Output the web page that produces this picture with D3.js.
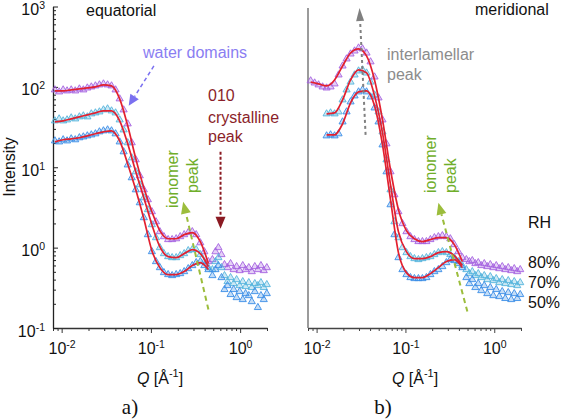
<!DOCTYPE html>
<html>
<head>
<meta charset="utf-8">
<script src="https://cdn.jsdelivr.net/npm/d3@7"></script>
<style>
  body { margin: 0; background: #fff; }
  svg { display: block; font-family: "Liberation Sans", Arial, sans-serif; }
</style>
</head>
<body>
<svg id="chart" width="563" height="420"></svg>
<script>
// ---- equatorial data (Q in 1/A, intensity) ----
const qEq = [0.0084, 0.00937, 0.0104, 0.0115, 0.0128, 0.0142, 0.0158, 0.0175, 0.0194, 0.0215,
    0.0239, 0.0265, 0.0294, 0.0327, 0.0362, 0.0402, 0.0447, 0.0495, 0.0550, 0.0610,
    0.0677, 0.0751, 0.0834, 0.0925, 0.1026, 0.114, 0.126, 0.140, 0.156, 0.173,
    0.192, 0.213, 0.236, 0.262, 0.291, 0.322, 0.358, 0.397, 0.441,
    0.489, 0.529, 0.571, 0.618, 0.668, 0.722, 0.781, 0.845, 0.913, 0.987,
    1.07, 1.15, 1.25, 1.35, 1.46, 1.58, 1.71, 1.84, 1.99];
const eq80 = [91.8, 86.7, 91.8, 89.2, 91.8, 89.2, 94.4, 91.8, 97, 100,
    103, 106, 109, 106, 103, 91.8, 71.0, 51.8, 34.7, 20.2,
    12.4, 7.84, 5.25, 3.95, 2.80, 2.10, 1.58, 1.37, 1.26, 1.26,
    1.29, 1.37, 1.45, 1.54, 1.58, 1.45, 1.15, 0.89, 0.67,
    0.71, 0.89, 1.00, 0.82, 0.615, 0.564, 0.633, 0.533, 0.581, 0.518,
    0.598, 0.533, 0.564, 0.503, 0.581, 0.533, 0.598, 0.518, 0.564];
const eq70 = [37.8, 40.0, 37.8, 38.9, 41.2, 40.0, 42.4, 43.6, 42.4, 46.2,
    47.5, 48.9, 51.8, 53.3, 50.3, 47.5, 38.9, 29.2, 20.2, 13.1,
    8.79, 6.07, 4.18, 2.97, 1.93, 1.33, 1.00, 0.842, 0.773, 0.751,
    0.751, 0.796, 0.842, 0.918, 0.944, 0.944, 0.819, 0.670, 0.564,
    0.533, 0.670, 0.751, 0.564, 0.449, 0.378, 0.424, 0.357, 0.400, 0.337,
    0.378, 0.328, 0.367, 0.319, 0.357, 0.337, 0.367, 0.319, 0.347];
const eq50 = [21.3, 20.7, 22.0, 21.3, 22.6, 22.0, 23.3, 23.9, 24.6, 25.3,
    26.1, 27.6, 28.4, 29.2, 28.4, 26.1, 20.7, 15.6, 10.7, 7.41,
    5.25, 3.62, 2.36, 1.45, 0.892, 0.670, 0.564, 0.489, 0.462, 0.449,
    0.462, 0.475, 0.503, 0.548, 0.598, 0.651, 0.670, 0.598, 0.533,
    0.449, 0.533, 0.598, 0.424, 0.301, 0.337, 0.261, 0.301, 0.239, 0.284,
    0.226, 0.268, 0.253, 0.213, 0.284, 0.180, 0.253, 0.226, 0.268];

// fitted curves, equatorial
const qFitEq = [0.0084, 0.0104, 0.0128, 0.0158, 0.0194, 0.0239, 0.0294, 0.0362, 0.0447, 0.0550,
    0.0677, 0.0834, 0.1026, 0.126, 0.156, 0.192, 0.236, 0.291, 0.358, 0.441];
const fitEq80 = [89.2, 89.2, 91.8, 94.4, 97, 100, 106, 103, 71.0, 32.8,
    12.8, 5.56, 2.80, 1.63, 1.29, 1.29, 1.45, 1.54, 1.19, 0.633];
const fitEq70 = [36.7, 37.8, 40.0, 42.4, 44.9, 47.5, 50.3, 50.3, 37.8, 19.6,
    8.79, 4.18, 1.93, 1.03, 0.773, 0.751, 0.842, 0.944, 0.842, 0.581];
const fitEq50 = [20.7, 22.0, 22.6, 23.3, 24.6, 26.1, 27.6, 28.4, 21.3, 11.0,
    5.25, 2.29, 0.918, 0.564, 0.462, 0.462, 0.503, 0.598, 0.651, 0.533];

// ---- meridional data ----
const qMer = [0.00857, 0.00950, 0.01052, 0.01167, 0.01295, 0.01436, 0.01593, 0.01767, 0.01960, 0.02174,
    0.02411, 0.02674, 0.02966, 0.03290, 0.03649, 0.04047, 0.04489, 0.04979, 0.0552, 0.0612,
    0.0679, 0.0752, 0.0834, 0.0925, 0.1026, 0.1138, 0.1262, 0.1400, 0.1553, 0.1722,
    0.1910, 0.2118, 0.2349, 0.2605, 0.289, 0.320, 0.355, 0.394, 0.437,
    0.485, 0.524, 0.566, 0.612, 0.661, 0.714, 0.772, 0.834, 0.902, 0.975,
    1.053, 1.138, 1.230, 1.330, 1.437, 1.553, 1.679, 1.815, 1.960];
const mer80 = [119, 112, 106, 100, 97, 100, 109, 141, 182, 223,
    257, 280, 305, 297, 264, 205, 133, 73.0, 38.9, 19.6,
    8.79, 4.55, 2.80, 1.99, 1.58, 1.37, 1.26, 1.19, 1.19, 1.19,
    1.26, 1.33, 1.37, 1.41, 1.37, 1.29, 1.09, 0.892, 0.751,
    0.710, 0.670, 0.690, 0.633, 0.651, 0.598, 0.633, 0.581, 0.615, 0.564,
    0.598, 0.548, 0.581, 0.533, 0.564, 0.518, 0.548, 0.503, 0.533];
const mer70 = [null, null, null, null, 46.2, 47.5, 46.2, 48.9, 69.0, 91.8,
    115, 141, 158, 163, 149, 115, 79.6, 48.9, 27.6, 12.4,
    5.25, 2.10, 1.33, 1.00, 0.867, 0.773, 0.730, 0.710, 0.730, 0.751,
    0.773, 0.819, 0.867, 0.892, 0.867, 0.819, 0.751, 0.670, 0.598,
    0.533, 0.475, 0.503, 0.449, 0.475, 0.424, 0.449, 0.400, 0.436, 0.389,
    0.412, 0.367, 0.400, 0.357, 0.389, 0.347, 0.378, 0.337, 0.367];
const mer50 = [null, null, null, null, 24.6, 25.3, 24.6, 26.1, 36.7, 48.9,
    65.1, 77.3, 86.7, 91.8, 86.7, 75.1, 54.8, 36.7, 19.0, 8.79,
    3.42, 1.45, 0.751, 0.533, 0.462, 0.424, 0.412, 0.412, 0.412, 0.424,
    0.462, 0.503, 0.533, 0.581, 0.651, 0.710, 0.690, 0.633, 0.564,
    0.424, 0.357, 0.400, 0.319, 0.357, 0.292, 0.337, 0.268, 0.319, 0.253,
    0.301, 0.246, 0.284, 0.233, 0.276, 0.226, 0.268, 0.233, 0.261];

// fitted curves, meridional
const qFitMer = [0.00857, 0.01052, 0.01295, 0.01593, 0.01960, 0.02411, 0.02966, 0.03649, 0.04489, 0.0552,
    0.0679, 0.0834, 0.1026, 0.1262, 0.1553, 0.1910, 0.2349, 0.289, 0.355, 0.437];
const fitMer80 = [115, 109, 103, 122, 182, 264, 297, 243, 122, 38.9,
    9.31, 2.97, 1.63, 1.29, 1.19, 1.26, 1.33, 1.33, 1.09, 0.670];
const fitMer70 = [null, null, 46.2, 47.5, 69.0, 122, 163, 149, 77.3, 26.8,
    6.07, 1.58, 0.892, 0.730, 0.730, 0.773, 0.867, 0.892, 0.796, 0.598];
const fitMer50 = [null, null, 25.3, 25.3, 34.7, 63.3, 86.7, 89.2, 58.1, 19.0,
    3.95, 0.867, 0.489, 0.424, 0.424, 0.475, 0.564, 0.670, 0.710, 0.564];

// ---- ticks / labels ----
const yMajor = [0.1, 1, 10, 100, 1000];
const yExp = ['-1', '0', '1', '2', '3'];
const yMinor = [0.2, 0.3, 0.4, 0.5, 0.6, 0.7, 0.8, 0.9, 2, 3, 4, 5, 6, 7, 8, 9,
    20, 30, 40, 50, 60, 70, 80, 90, 200, 300, 400, 500, 600, 700, 800, 900];
const xMajor = [0.01, 0.1, 1];
const xExp = ['-2', '-1', '0'];
const xMinor = [0.008, 0.009, 0.02, 0.03, 0.04, 0.05, 0.06, 0.07, 0.08, 0.09,
    0.2, 0.3, 0.4, 0.5, 0.6, 0.7, 0.8, 0.9, 2];
const rhLabels = ['80%', '70%', '50%'];

const colors = {p80: '#a562e0', p70: '#55b4dc', p50: '#3b8de6', fit: '#e2202f'};

const svg = d3.select('#chart');
const y = d3.scaleLog().domain([0.1, 1000]).range([328, 6.5]);
const xL = d3.scaleLog().domain([0.008, 2]).range([53, 267]);
const xR = d3.scaleLog().domain([0.008, 2]).range([308, 521]);

function sup(text, exp) {
    text.text(null);
    text.append('tspan').text('10');
    text.append('tspan').attr('dy', -6).attr('font-size', 10.5).text(exp);
}

function xAxis(x, color) {
    const g = svg.append('g')
        .attr('transform', 'translate(0,328)')
        .attr('color', color);
    g.call(d3.axisBottom(x).tickValues(xMajor).tickSizeInner(5).tickSizeOuter(0).tickPadding(10));
    g.attr('font-size', 16).attr('font-family', null);
    g.selectAll('.tick text').attr('fill', '#111').each(function(d, i) { sup(d3.select(this), xExp[i]); });
    const m = svg.append('g').attr('transform', 'translate(0,328)').attr('color', color);
    m.call(d3.axisBottom(x).tickValues(xMinor).tickSizeInner(3).tickSizeOuter(0).tickFormat(''));
    m.select('.domain').remove();
    g.select('.domain').attr('stroke-width', 1.3);
}

xAxis(xL, '#333');
xAxis(xR, '#444');

// left y axis, ticks inward
const ya = svg.append('g').attr('transform', 'translate(53,0)').attr('color', '#222');
ya.call(d3.axisLeft(y).tickValues(yMajor).tickSizeInner(-5).tickSizeOuter(0).tickPadding(8));
ya.attr('font-size', 16).attr('font-family', null);
ya.selectAll('.tick text').attr('fill', '#111').attr('dy', '0.5em').each(function(d, i) { sup(d3.select(this), yExp[i]); });
ya.select('.domain').attr('stroke-width', 1.3);
const ym = svg.append('g').attr('transform', 'translate(53,0)').attr('color', '#222');
ym.call(d3.axisLeft(y).tickValues(yMinor).tickSizeInner(-3).tickSizeOuter(0).tickFormat(''));
ym.select('.domain').remove();

// right y axis: plain grey line
svg.append('line')
    .attr('x1', 308).attr('x2', 308)
    .attr('y1', y(1000) + 1.5).attr('y2', 328)
    .attr('stroke', '#7a7a7a').attr('stroke-width', 1.5);

// ---- data markers and fits ----
const tri = d3.symbol(d3.symbolTriangle, 22);

function drawSeries(x, q, vals, color) {
    const pts = q.map((d, i) => ({q: d, v: vals[i]})).filter(d => d.v != null);
    svg.append('g').selectAll('path')
        .data(pts).enter().append('path')
        .attr('d', tri)
        .attr('transform', d => `translate(${x(d.q)},${y(d.v)})`)
        .attr('fill', color).attr('fill-opacity', 0.3)
        .attr('stroke', color).attr('stroke-width', 0.9);
}

function drawFit(x, q, vals) {
    const pts = q.map((d, i) => ({q: d, v: vals[i]}));
    const line = d3.line()
        .defined(d => d.v != null)
        .x(d => x(d.q)).y(d => y(d.v))
        .curve(d3.curveMonotoneX);
    svg.append('path').datum(pts)
        .attr('d', line)
        .attr('fill', 'none')
        .attr('stroke', colors.fit).attr('stroke-width', 1.7);
}

drawSeries(xL, qEq, eq80, colors.p80);
drawSeries(xL, qEq, eq70, colors.p70);
drawSeries(xL, qEq, eq50, colors.p50);
drawFit(xL, qFitEq, fitEq80);
drawFit(xL, qFitEq, fitEq70);
drawFit(xL, qFitEq, fitEq50);

drawSeries(xR, qMer, mer80, colors.p80);
drawSeries(xR, qMer, mer70, colors.p70);
drawSeries(xR, qMer, mer50, colors.p50);
drawFit(xR, qFitMer, fitMer80);
drawFit(xR, qFitMer, fitMer70);
drawFit(xR, qFitMer, fitMer50);

// ---- annotation arrows (given in data units) ----
function arrow(x, from, to, color, dash, width, headLen, headW) {
    const x1 = x(from[0]), y1 = y(from[1]), x2 = x(to[0]), y2 = y(to[1]);
    const a = Math.atan2(y2 - y1, x2 - x1);
    const bx = x2 - headLen * Math.cos(a), by = y2 - headLen * Math.sin(a);
    svg.append('line')
        .attr('x1', x1).attr('y1', y1).attr('x2', bx).attr('y2', by)
        .attr('stroke', color).attr('stroke-width', width)
        .attr('stroke-dasharray', dash);
    const nx = -Math.sin(a) * headW / 2, ny = Math.cos(a) * headW / 2;
    svg.append('path')
        .attr('d', `M${x2},${y2}L${bx + nx},${by + ny}L${bx - nx},${by - ny}Z`)
        .attr('fill', color);
}

arrow(xL, [0.108, 182], [0.0564, 58.1], '#7a70f0', '4,3', 1.5, 11, 10);
arrow(xL, [0.603, 15.6], [0.603, 1.72], '#8b1a22', '3,2', 2, 12, 10);
arrow(xL, [0.441, 0.170], [0.230, 3.73], '#9cbd3c', '5,4', 2, 12, 10);
arrow(xR, [0.498, 0.160], [0.235, 3.62], '#9cbd3c', '5,4', 2, 12, 10);
arrow(xR, [0.0356, 25.3], [0.0304, 958], '#808080', '3,3', 2, 13, 8);

// ---- texts ----
function label(x, yy, txt, color, opts = {}) {
    const t = svg.append('text')
        .attr('x', x).attr('y', yy)
        .attr('font-size', opts.size || 16)
        .attr('fill', color)
        .attr('text-anchor', opts.anchor || 'start')
        .text(txt);
    if (opts.rotate) t.attr('transform', `rotate(-90,${x},${yy})`);
    if (opts.family) t.attr('font-family', opts.family);
    return t;
}

label(86, 16, 'equatorial', '#111');
label(475, 15, 'meridional', '#111');
label(143, 58, 'water domains', '#8a7ef2');
label(208, 101, '010', '#8b1f2a');
label(208, 123, 'crystalline', '#8b1f2a');
label(208, 142, 'peak', '#8b1f2a');
label(387, 60, 'interlamellar', '#8c8c8c');
label(387, 80, 'peak', '#8c8c8c');
label(178, 208, 'ionomer', '#6fae2a', {rotate: true});
label(198, 193, 'peak', '#6fae2a', {rotate: true});
label(436, 193, 'ionomer', '#6fae2a', {rotate: true});
label(456, 193, 'peak', '#6fae2a', {rotate: true});
label(528, 228, 'RH', '#111');
rhLabels.forEach((s, i) => label(528, 268 + i * 20, s, '#111'));
label(15, 167, 'Intensity', '#111', {rotate: true, anchor: 'middle'});

function qLabel(cx) {
    const t = svg.append('text').attr('x', cx).attr('y', 384)
        .attr('font-size', 16).attr('fill', '#111').attr('text-anchor', 'middle');
    t.append('tspan').attr('font-style', 'italic').text('Q');
    t.append('tspan').text(' [\u00c5');
    t.append('tspan').attr('dy', -7).attr('font-size', 11).text('-1');
    t.append('tspan').attr('dy', 7).text(']');
}
qLabel(160);
qLabel(415);

label(130, 414, 'a)', '#111', {size: 21, anchor: 'middle', family: '"Liberation Serif", serif'});
label(383, 414, 'b)', '#111', {size: 21, anchor: 'middle', family: '"Liberation Serif", serif'});
</script>
</body>
</html>
